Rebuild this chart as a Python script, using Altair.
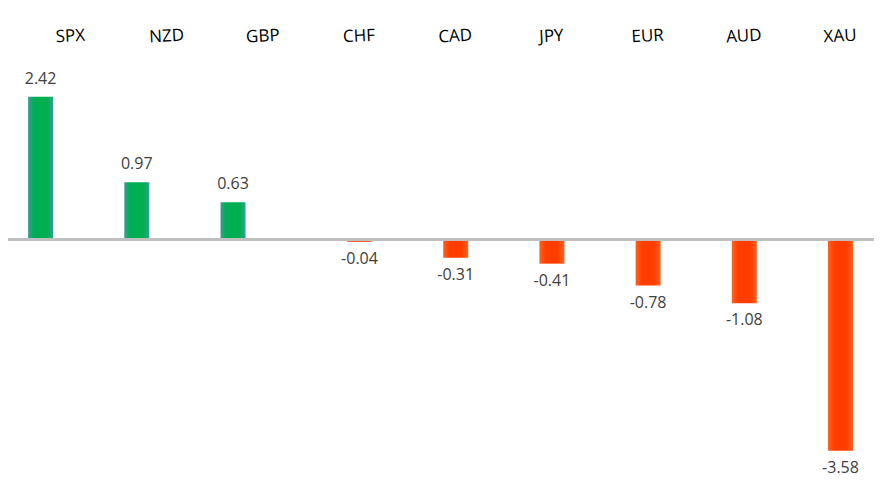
import altair as alt
import pandas as pd

categories = ["SPX", "NZD", "GBP", "CHF", "CAD", "JPY", "EUR", "AUD", "XAU"]
values = [2.42, 0.97, 0.63, -0.04, -0.31, -0.41, -0.78, -1.08, -3.58]

df = pd.DataFrame({"cur": categories, "val": values})
df["label"] = [f"{v:.2f}" for v in values]

pos = df[df["val"] > 0]
neg = df[df["val"] <= 0]

FONT = "Open Sans"

xscale = alt.Scale(domain=categories, paddingInner=0.74, paddingOuter=0.371, align=0.706)
yscale = alt.Scale(domain=[-3.907, 3.042], nice=False, zero=False)

xenc = alt.X("cur:N", scale=xscale, sort=categories,
             axis=alt.Axis(orient="top", title=None, ticks=False, domain=False, grid=False,
                           labelFont=FONT, labelFontSize=17, labelColor="#000000",
                           labelPadding=15, labelAngle=357, labelAlign="center",
                           labelBaseline="bottom"))
yenc = alt.Y("val:Q", scale=yscale, axis=None)

green = {"gradient": "linear", "x1": 0, "y1": 0, "x2": 1, "y2": 0,
         "stops": [{"offset": 0, "color": "#3A9B97"}, {"offset": 0.22, "color": "#00B050"},
                   {"offset": 0.78, "color": "#00B050"}, {"offset": 1, "color": "#3A9B97"}]}
red = {"gradient": "linear", "x1": 0, "y1": 0, "x2": 1, "y2": 0,
       "stops": [{"offset": 0, "color": "#FF6326"}, {"offset": 0.25, "color": "#FF3D00"},
                 {"offset": 0.75, "color": "#FF3D00"}, {"offset": 1, "color": "#FF6326"}]}

pos_bars = alt.Chart(pos).mark_bar(color=green, xOffset=-30.3).encode(
    x=xenc, y=yenc, y2=alt.datum(0))
neg_bars = alt.Chart(neg).mark_bar(color=red).encode(
    x=xenc, y=yenc, y2=alt.datum(0))

pos_text = alt.Chart(pos).mark_text(font=FONT, fontSize=16, color="#404040",
                                    xOffset=-30.3, dy=-18, baseline="middle").encode(
    x=xenc, y=yenc, text="label:N")
neg_text = alt.Chart(neg).mark_text(font=FONT, fontSize=16, color="#404040",
                                    dy=17, baseline="middle").encode(
    x=xenc, y=yenc, text="label:N")

zero = alt.Chart(df).mark_rule(color="#BFBFBF", strokeWidth=2).encode(y=alt.datum(0))

chart = alt.layer(pos_bars, neg_bars, pos_text, neg_text, zero).properties(
    width=866, height=410,
    autosize=alt.AutoSizeParams(type="none"),
    padding={"left": 0, "top": 52, "right": 0, "bottom": 10},
).configure_view(stroke=None)

chart.save("out.html", embed_options={"renderer": "svg", "actions": False})
